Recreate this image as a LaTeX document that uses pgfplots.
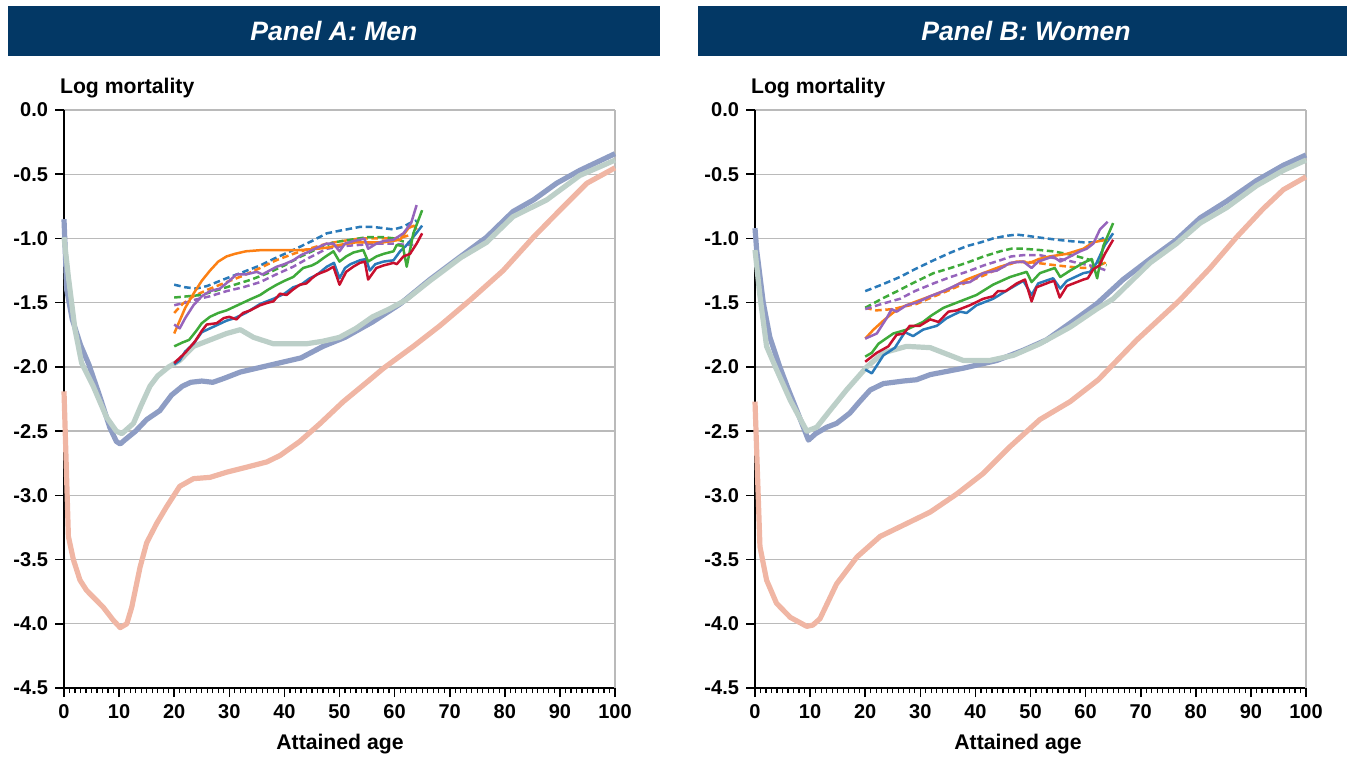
\documentclass[border=0pt]{standalone}
\usepackage{fontspec}
\setmainfont{Liberation Sans}
\usepackage{pgfplots}
\pgfplotsset{compat=1.18}

\definecolor{banner}{HTML}{033865}
\definecolor{popslate}{HTML}{8E9DC4}
\definecolor{popsage}{HTML}{BCCFC8}
\definecolor{popsalmon}{HTML}{F0B6A4}
\definecolor{cblue}{HTML}{2A7AB9}
\definecolor{corange}{HTML}{FC8014}
\definecolor{cgreen}{HTML}{3FAA3A}
\definecolor{cred}{HTML}{C8102E}
\definecolor{cpurple}{HTML}{9664BC}

\pgfplotsset{
  mortpanel/.style={
    scale only axis, width=275.5pt, height=289pt,
    xmin=0, xmax=100, ymin=-4.5, ymax=0,
    axis x line*=bottom, axis y line*=left,
    axis line style={black, line width=1.2pt, -},
    xtick={0,10,20,30,40,50,60,70,80,90,100},
    xticklabels={0,10,20,30,40,50,60,70,80,90,100},
    minor x tick num=9,
    ytick={-4.5,-4,-3.5,-3,-2.5,-2,-1.5,-1,-0.5,0},
    yticklabels={-4.5,-4.0,-3.5,-3.0,-2.5,-2.0,-1.5,-1.0,-0.5,0.0},
    tick align=outside,
    major tick length=4.5pt, minor tick length=2.6pt,
    tick style={black, line width=0.8pt},
    minor tick style={black, line width=0.6pt},
    ymajorgrids, major grid style={black!27, line width=0.7pt},
    ticklabel style={font=\fontsize{10}{12}\selectfont\bfseries},
    clip=false,
  },
  thickpop/.style={line width=2.6pt, line join=round},
  thinsolid/.style={line width=1.25pt, line join=round},
  thindash/.style={line width=1.25pt, dash pattern=on 3.3pt off 1.8pt},
}

\begin{document}
\begin{tikzpicture}
\useasboundingbox (0pt,0pt) rectangle (675.5pt,-378.5pt);

% title banners
\fill[banner] (4pt,-3pt) rectangle (330pt,-28pt);
\fill[banner] (349pt,-3pt) rectangle (673.5pt,-28pt);
\node[text=white, font=\fontsize{13.3}{15}\selectfont\bfseries\itshape] at (167pt,-15.5pt) {Panel A: Men};
\node[text=white, font=\fontsize{13.3}{15}\selectfont\bfseries\itshape] at (513pt,-15.5pt) {Panel B: Women};

% ---------------- Panel A: men ----------------
\begin{axis}[mortpanel, at={(32pt,-344pt)}, anchor=south west]
\draw[black!27, line width=0.7pt] (axis cs:100,-4.5) -- (axis cs:100,0);
\addplot[thickpop, popsalmon] coordinates {
(0,-2.19)(0.8,-3.32)(1.7,-3.50)(2.9,-3.66)(4.1,-3.74)(7.1,-3.87)(8.9,-3.97)(10.2,-4.03)
(11.4,-4.00)(12.3,-3.87)(13.8,-3.56)(15,-3.37)(16.8,-3.22)(18.6,-3.09)(21,-2.93)
(23.5,-2.87)(26.5,-2.86)(29.5,-2.82)(33.2,-2.78)(36.8,-2.74)(39.2,-2.69)(42.8,-2.58)
(46.5,-2.44)(50.7,-2.27)(55.5,-2.10)(58,-2.01)(63.4,-1.84)(68.2,-1.68)(73.7,-1.48)
(79.7,-1.25)(85.2,-0.99)(90,-0.78)(94.9,-0.57)(100,-0.45)};
\addplot[thickpop, popslate] coordinates {
(0,-0.85)(0.5,-1.40)(1.5,-1.63)(3,-1.83)(4.5,-1.98)(6.5,-2.23)(8.3,-2.47)(9.5,-2.58)
(10.2,-2.60)(11,-2.57)(13,-2.50)(15,-2.41)(17.4,-2.34)(19.5,-2.22)(21.5,-2.15)(23,-2.12)
(25,-2.11)(27,-2.12)(29,-2.09)(32,-2.04)(36,-2.00)(40,-1.96)(43,-1.93)(47,-1.84)
(51,-1.77)(56,-1.65)(61,-1.51)(66.4,-1.32)(72,-1.14)(76.7,-0.99)(81.5,-0.79)(85.2,-0.70)
(89.4,-0.57)(93.6,-0.47)(100,-0.34)};
\addplot[thickpop, popsage] coordinates {
(0,-0.99)(0.8,-1.30)(2,-1.71)(3.2,-1.97)(5.3,-2.15)(7.7,-2.39)(9.5,-2.50)(10.5,-2.52)
(12.6,-2.44)(14,-2.30)(15.6,-2.15)(17,-2.07)(19,-2.00)(21,-1.95)(23.5,-1.84)(26.5,-1.79)
(29.5,-1.74)(32,-1.71)(34.4,-1.77)(38,-1.82)(44,-1.82)(47,-1.80)(50,-1.77)(53,-1.70)
(56,-1.61)(59,-1.55)(62,-1.48)(66.4,-1.33)(72,-1.15)(76.7,-1.03)(81.5,-0.83)(87.6,-0.70)
(93.6,-0.51)(100,-0.39)};
% dashed cohorts
\addplot[thindash, cblue] coordinates {
(20,-1.36)(22,-1.38)(24,-1.39)(26,-1.37)(29.5,-1.31)(32,-1.27)(35.6,-1.21)(38.5,-1.15)
(41.6,-1.09)(45,-1.02)(47.7,-0.96)(50,-0.94)(53.7,-0.91)(56,-0.91)(58,-0.92)(59.8,-0.93)
(61.5,-0.91)(62.8,-0.88)(64,-0.86)};
\addplot[thindash, corange] coordinates {
(20,-1.58)(21.5,-1.51)(23.5,-1.45)(26,-1.40)(29.5,-1.34)(32.5,-1.29)(35.6,-1.23)(38.5,-1.17)
(41.6,-1.12)(44.5,-1.08)(47.7,-1.04)(50.5,-1.02)(53.7,-1.00)(57,-1.00)(59.8,-1.00)(61.5,-0.99)
(63,-0.97)};
\addplot[thindash, cgreen] coordinates {
(20,-1.46)(22.5,-1.45)(25,-1.44)(28,-1.40)(31,-1.36)(34,-1.32)(37,-1.27)(40,-1.21)
(43,-1.14)(46,-1.08)(49,-1.03)(52,-1.01)(55,-0.99)(58,-0.99)(60,-1.00)(62,-1.03)(63,-1.04)};
\addplot[thindash, cpurple] coordinates {
(20,-1.52)(22,-1.50)(23.5,-1.48)(26.5,-1.45)(29.5,-1.41)(32.5,-1.38)(35.6,-1.34)(38.5,-1.28)
(41.6,-1.22)(44.5,-1.15)(47.7,-1.08)(50.5,-1.06)(53.7,-1.05)(57,-1.04)(59.8,-1.04)(62,-1.05)
(63.4,-1.05)};
% solid cohorts
\addplot[thinsolid, cblue] coordinates {
(20,-1.98)(21,-1.95)(22,-1.88)(23.5,-1.82)(25,-1.73)(27,-1.69)(29.5,-1.64)(31,-1.62)
(33,-1.58)(35.6,-1.51)(38,-1.47)(40,-1.43)(41.6,-1.38)(43,-1.36)(44.6,-1.31)(46,-1.28)
(47.7,-1.22)(49,-1.19)(50,-1.31)(51,-1.23)(52,-1.20)(53.7,-1.17)(54.8,-1.16)(55.5,-1.25)
(56.5,-1.20)(58,-1.18)(59.8,-1.17)(61,-1.10)(62,-1.06)(63,-1.01)(65,-0.90)};
\addplot[thinsolid, corange] coordinates {
(20,-1.74)(21,-1.64)(22,-1.54)(23.5,-1.43)(25,-1.33)(26.5,-1.25)(28,-1.18)(29.5,-1.14)
(31,-1.12)(33,-1.10)(36,-1.09)(40,-1.09)(43,-1.09)(46,-1.08)(48,-1.07)(50,-1.05)
(53,-1.03)(56,-1.03)(58,-1.03)(61,-1.01)(62.5,-0.92)(63.5,-0.90)(64,-0.93)};
\addplot[thinsolid, cgreen] coordinates {
(20,-1.84)(21.5,-1.81)(22.7,-1.79)(24,-1.72)(25,-1.66)(26.5,-1.61)(28,-1.58)(29.5,-1.56)
(31,-1.53)(33,-1.49)(34,-1.47)(35.6,-1.44)(37,-1.40)(38.6,-1.36)(40,-1.33)(41.6,-1.30)
(43.4,-1.23)(45,-1.21)(45.9,-1.19)(47.5,-1.14)(48.9,-1.10)(50,-1.18)(51.2,-1.14)(52.5,-1.11)
(54.3,-1.09)(55.2,-1.18)(56.7,-1.14)(58,-1.12)(59.8,-1.10)(60.4,-1.05)(61.5,-1.06)(62.2,-1.22)
(63.4,-0.96)(65,-0.78)};
\addplot[thinsolid, cred] coordinates {
(20,-1.97)(21,-1.93)(22,-1.89)(23.8,-1.80)(25,-1.72)(25.9,-1.67)(27.7,-1.66)(29,-1.62)
(30,-1.61)(31.3,-1.63)(32.5,-1.58)(33.8,-1.56)(35.6,-1.52)(37,-1.50)(38,-1.49)(39.2,-1.43)
(40.4,-1.44)(41.5,-1.40)(42.8,-1.36)(44,-1.35)(45,-1.31)(45.9,-1.28)(47.7,-1.25)(48.9,-1.22)
(50,-1.36)(51.2,-1.26)(52.5,-1.22)(53.7,-1.19)(54.6,-1.18)(55.2,-1.32)(56.7,-1.23)(58,-1.21)
(59.8,-1.19)(60.4,-1.20)(61.6,-1.14)(62.8,-1.12)(64,-1.04)(65,-0.96)};
\addplot[thinsolid, cpurple] coordinates {
(20,-1.67)(21,-1.70)(22,-1.62)(23.5,-1.52)(25,-1.45)(26.5,-1.41)(28.3,-1.39)(30,-1.33)
(31.3,-1.28)(33,-1.28)(35,-1.26)(36,-1.28)(38.6,-1.22)(40,-1.20)(41.6,-1.17)(43,-1.13)
(44.6,-1.10)(46,-1.07)(47.7,-1.04)(48.9,-1.04)(50,-1.10)(51,-1.04)(52.5,-1.02)(53.7,-1.01)
(54.5,-1.00)(55.2,-1.08)(56.7,-1.04)(58,-1.02)(59.8,-1.01)(61.6,-0.96)(63,-0.88)(64,-0.74)};
\end{axis}

% ---------------- Panel B: women ----------------
\begin{axis}[mortpanel, at={(377.5pt,-344pt)}, anchor=south west]
\draw[black!27, line width=0.7pt] (axis cs:100,-4.5) -- (axis cs:100,0);
\addplot[thickpop, popsalmon] coordinates {
(0,-2.27)(0.9,-3.40)(2.1,-3.66)(3.9,-3.84)(6.4,-3.95)(9.4,-4.02)(10.5,-4.01)(11.8,-3.96)
(14.8,-3.69)(18.5,-3.48)(22.7,-3.32)(27.5,-3.22)(31.8,-3.13)(36.6,-2.99)(41.4,-2.83)
(46.3,-2.62)(51.7,-2.41)(57.2,-2.27)(62.3,-2.10)(69.3,-1.79)(77.1,-1.48)(82.6,-1.23)
(87.4,-0.99)(92.2,-0.77)(95.9,-0.62)(100,-0.52)};
\addplot[thickpop, popslate] coordinates {
(0,-0.92)(0.3,-1.09)(1.5,-1.50)(2.7,-1.77)(4.5,-2.00)(6,-2.17)(7.6,-2.34)(9.7,-2.57)
(11,-2.52)(13,-2.47)(14.8,-2.44)(17.2,-2.36)(19,-2.27)(20.9,-2.18)(23.3,-2.13)(26.9,-2.11)
(29.3,-2.10)(31.8,-2.06)(37.8,-2.01)(43.9,-1.95)(48.7,-1.87)(52.9,-1.79)(57.5,-1.65)
(62,-1.51)(66.8,-1.32)(71.7,-1.16)(76.5,-1.01)(80.8,-0.84)(85.6,-0.71)(91,-0.55)
(95.9,-0.43)(100,-0.35)};
\addplot[thickpop, popsage] coordinates {
(0,-1.09)(0.9,-1.45)(2.1,-1.84)(3.9,-2.02)(6.4,-2.26)(9.4,-2.50)(11.2,-2.47)(13.6,-2.34)
(16.6,-2.18)(20.3,-2.00)(23.3,-1.89)(27.5,-1.84)(31.8,-1.85)(34.8,-1.90)(37.8,-1.95)
(42.6,-1.95)(46.9,-1.91)(51.7,-1.82)(57.2,-1.69)(62,-1.55)(65,-1.47)(71.7,-1.19)
(76.5,-1.04)(80.8,-0.88)(85.6,-0.76)(91,-0.59)(95.9,-0.47)(100,-0.39)};
% dashed cohorts
\addplot[thindash, cblue] coordinates {
(20,-1.41)(23,-1.36)(26.3,-1.30)(29,-1.24)(32.4,-1.17)(35.5,-1.11)(38.4,-1.06)(41,-1.03)
(43.2,-1.00)(45.5,-0.98)(47.5,-0.97)(49.5,-0.98)(51.1,-0.99)(54.8,-1.01)(57,-1.02)
(59.6,-1.03)(62,-1.03)(63.8,-0.98)};
\addplot[thindash, corange] coordinates {
(20,-1.54)(22,-1.56)(25.1,-1.55)(27,-1.53)(29.3,-1.51)(32,-1.46)(35.4,-1.40)(38.5,-1.34)
(41.4,-1.29)(44.5,-1.23)(47.5,-1.18)(49,-1.18)(51.1,-1.19)(54.8,-1.21)(57,-1.22)(59.6,-1.23)
(62,-1.22)(63.5,-1.19)(64,-1.17)};
\addplot[thindash, cgreen] coordinates {
(20,-1.54)(23,-1.47)(26.3,-1.40)(29,-1.34)(32.4,-1.27)(35.5,-1.23)(38.4,-1.19)(41.5,-1.14)
(44.5,-1.10)(46.5,-1.08)(48.7,-1.08)(51.7,-1.09)(54,-1.10)(56.6,-1.12)(58.5,-1.14)
(60.2,-1.16)(62,-1.18)(63.8,-1.21)};
\addplot[thindash, cpurple] coordinates {
(20,-1.55)(23,-1.51)(26.3,-1.47)(29,-1.41)(32.4,-1.35)(35.5,-1.30)(38.4,-1.26)(41.5,-1.21)
(44.5,-1.17)(46.5,-1.14)(48.7,-1.13)(51.7,-1.13)(54,-1.15)(56.6,-1.17)(58.5,-1.19)
(60.8,-1.21)(62.5,-1.23)(63.8,-1.25)};
% solid cohorts
\addplot[thinsolid, cblue] coordinates {
(20,-2.02)(21.2,-2.05)(23.3,-1.91)(25.4,-1.85)(27.2,-1.73)(28.7,-1.76)(30.5,-1.71)(33,-1.68)
(34.8,-1.62)(37.2,-1.57)(38.4,-1.58)(40.2,-1.52)(43.2,-1.47)(46.3,-1.39)(48.7,-1.33)
(50.2,-1.44)(51.4,-1.35)(54.1,-1.31)(55.4,-1.39)(56.6,-1.33)(59.6,-1.27)(60.8,-1.26)
(62,-1.19)(63.5,-1.05)(65,-0.96)};
\addplot[thinsolid, corange] coordinates {
(20,-1.78)(21.5,-1.71)(23.3,-1.64)(25,-1.58)(26.3,-1.54)(29.3,-1.49)(32.4,-1.44)(35.4,-1.39)
(38.4,-1.32)(41.4,-1.27)(44.5,-1.22)(47.5,-1.18)(49.9,-1.19)(51.5,-1.16)(53.5,-1.14)
(56.6,-1.12)(59.6,-1.08)(61.4,-1.03)(62.5,-1.02)(64,-1.01)};
\addplot[thinsolid, cgreen] coordinates {
(20,-1.92)(21.2,-1.89)(22.4,-1.82)(25.1,-1.74)(27.5,-1.71)(30.5,-1.65)(32,-1.60)(34.2,-1.54)
(37.2,-1.49)(40.2,-1.44)(43.2,-1.36)(46.3,-1.30)(49.3,-1.26)(50.2,-1.34)(51.7,-1.27)
(54.4,-1.23)(55.4,-1.30)(57.2,-1.25)(59.6,-1.19)(61.1,-1.16)(62.1,-1.31)(63.2,-1.06)(65,-0.88)};
\addplot[thinsolid, cred] coordinates {
(20,-1.96)(22.1,-1.89)(24.2,-1.84)(25.7,-1.75)(27,-1.74)(28.1,-1.68)(29.9,-1.68)(31.8,-1.63)
(33.3,-1.65)(35.1,-1.57)(36.6,-1.56)(39,-1.52)(41.4,-1.47)(43.2,-1.45)(44.1,-1.41)(45.5,-1.41)
(47.5,-1.35)(49,-1.32)(50.2,-1.49)(51.1,-1.38)(53.5,-1.34)(54.3,-1.33)(55.3,-1.46)(56.6,-1.37)
(59.6,-1.32)(60.4,-1.31)(61.4,-1.24)(62.5,-1.21)(63.5,-1.12)(65,-1.01)};
\addplot[thinsolid, cpurple] coordinates {
(20,-1.78)(22.1,-1.74)(23.9,-1.62)(24.8,-1.55)(25.7,-1.57)(27.5,-1.52)(29.3,-1.50)(31.8,-1.45)
(34.2,-1.41)(37.2,-1.35)(39,-1.34)(41.4,-1.27)(43.9,-1.25)(46.3,-1.19)(48.7,-1.18)(50.2,-1.23)
(51.4,-1.18)(54.1,-1.14)(55.4,-1.18)(57.2,-1.14)(59,-1.10)(60.2,-1.08)(61.4,-1.04)(62.6,-0.93)
(64,-0.87)};
\end{axis}

% axis titles
\node[anchor=west, font=\fontsize{10.6}{12}\selectfont\bfseries] at (26.5pt,-44pt) {Log mortality};
\node[anchor=west, font=\fontsize{10.6}{12}\selectfont\bfseries] at (372pt,-44pt) {Log mortality};
\node[font=\fontsize{10.6}{12}\selectfont\bfseries] at (170pt,-372pt) {Attained age};
\node[font=\fontsize{10.6}{12}\selectfont\bfseries] at (509pt,-372pt) {Attained age};
\end{tikzpicture}
\end{document}
